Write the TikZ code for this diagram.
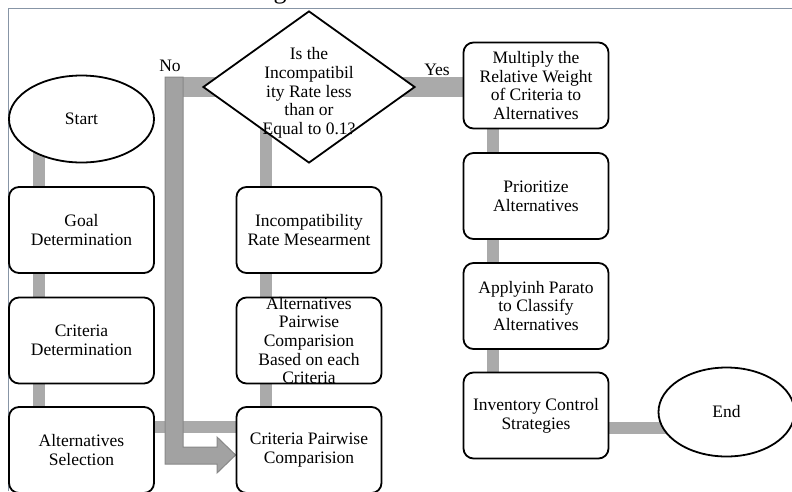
\documentclass[tikz,border=0pt]{standalone}
\usepackage{fontspec}
\setmainfont{Liberation Serif}
\usetikzlibrary{shapes.geometric}
\pgfdeclarelayer{bg}
\pgfsetlayers{bg,main}
\definecolor{framec}{HTML}{8795A6}
\definecolor{linkc}{HTML}{AAAAAA}
\definecolor{arrowfill}{HTML}{A2A2A2}
\definecolor{arrowedge}{HTML}{888888}
\begin{document}
\begin{tikzpicture}[x=1pt,y=-1pt,
  every node/.style={font=\fontsize{17.5}{18.7}\selectfont},
  stepbox/.style={draw=black,line width=1.8pt,rounded corners=10pt,fill=white,
    minimum width=145pt,minimum height=86pt,align=center,inner sep=2pt},
  terminal/.style={draw=black,line width=1.8pt,ellipse,fill=white,inner sep=0pt},
  decision/.style={draw=black,line width=1.8pt,diamond,fill=white,inner sep=0pt,
    minimum width=212pt,minimum height=152pt},
  txt/.style={align=center,inner sep=0pt},
  link/.style={draw=linkc,line width=12pt},
  widelink/.style={draw=linkc,line width=20pt},
  blockarrow/.style={fill=arrowfill,draw=arrowedge,line width=1pt,line join=miter},
]
\useasboundingbox (0,0) rectangle (792,491);

% frame
\draw[framec,line width=1.5pt] (8.5,491) -- (8.5,8.5) -- (792,8.5);

% caption glyph, cut by the top edge
\begin{scope}
  \clip (0,0) rectangle (792,491);
  \node[anchor=base,inner sep=0pt,font=\fontsize{26}{28}\selectfont] (caption) at (280,-2) {g};
\end{scope}

% left column
\node[terminal,minimum width=145pt,minimum height=87pt] (start) at (81.5,119) {Start};
\node[stepbox] (goal)   at (81.5,230)   {Goal\\Determination};
\node[stepbox] (crit)   at (81.5,340.5) {Criteria\\Determination};
\node[stepbox] (altsel) at (81.5,450)   {Alternatives\\Selection};

% middle column
\node[stepbox] (critpair) at (309,450)   {Criteria Pairwise\\Comparision};
\node[stepbox] (altpair)  at (309,340.5) {};
\node[txt] (altpairtext) at (altpair.center)
  {Alternatives\\Pairwise\\Comparision\\Based on each\\Criteria};
\node[stepbox] (incomp) at (309,230) {Incompatibility\\Rate Mesearment};
\node[decision] (dec) at (309,87) {};
\node[txt] (dectext) at (309,93)
  {Is the\\Incompatibil\\ity Rate less\\than or\\Equal to 0.1?};

% right column
\node[stepbox] (mult)   at (536,85.5)  {Multiply the\\Relative Weight\\of Criteria to\\Alternatives};
\node[stepbox] (prior)  at (536,196)   {Prioritize\\Alternatives};
\node[stepbox] (pareto) at (536,306)   {Applyinh Parato\\to Classify\\Alternatives};
\node[stepbox] (inv)    at (536,415.5) {Inventory Control\\Strategies};
\node[terminal,minimum width=136pt,minimum height=89pt] (end) at (726.5,412) {End};

% branch labels
\node[txt] (nolbl)  at (170,66) {No};
\node[txt] (yeslbl) at (437,70) {Yes};

% helper points
\coordinate (selout) at ([yshift=23.5pt]altsel.center);
\coordinate (invout) at ([yshift=-12pt]inv.center);
\coordinate (noturn) at (174,87);

\begin{pgfonlayer}{bg}
  % left column links
  \draw[link] ([xshift=-43pt]start.center) -- ([xshift=-43pt]goal.center);
  \draw[link] ([xshift=-43pt]goal.center) -- ([xshift=-43pt]crit.center);
  \draw[link] ([xshift=-43pt]crit.center) -- ([xshift=-43pt]altsel.center);
  \draw[link] (selout) -- (selout -| critpair.center);
  % middle column links
  \draw[link] ([xshift=-43pt]critpair.center) -- ([xshift=-43pt]altpair.center);
  \draw[link] ([xshift=-43pt]altpair.center) -- ([xshift=-43pt]incomp.center);
  \draw[link] ([xshift=-43pt]incomp.center) -- ([xshift=-43pt]dec.center);
  % decision outputs
  \draw[widelink] (dec.center) -- (dec.center -| mult.center);
  \draw[widelink] (dec.center) -- (noturn);
  % right column links
  \draw[link] ([xshift=-43pt]mult.center) -- ([xshift=-43pt]prior.center);
  \draw[link] ([xshift=-43pt]prior.center) -- ([xshift=-43pt]pareto.center);
  \draw[link] ([xshift=-43pt]pareto.center) -- ([xshift=-43pt]inv.center);
  \draw[link] (invout) -- (invout -| end.center);
  % "No" block arrow back to the pairwise comparison
  \path[blockarrow] (165,77) -- (183,77) -- (183,447) -- (217,447) -- (217,437)
    -- (critpair.west |- 0,455) -- (217,473) -- (217,464) -- (165,464) -- cycle;
\end{pgfonlayer}
\end{tikzpicture}
\end{document}
